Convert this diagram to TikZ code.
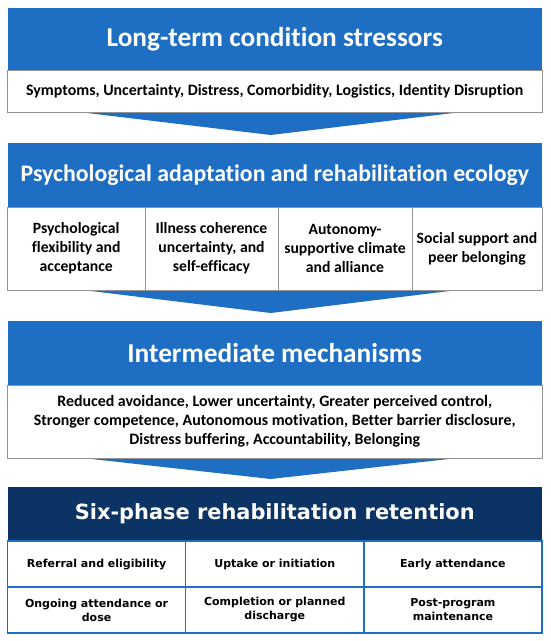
\documentclass[tikz,border=0pt]{standalone}
\usepackage{fontspec}
\setmainfont{Carlito}[Ligatures=NoCommon]
\newfontfamily\phasefont{DejaVu Sans}
\usepackage{tikz}
\usetikzlibrary{backgrounds,calc,positioning}
\definecolor{stageblue}{RGB}{30,111,196}
\definecolor{stagenavy}{RGB}{11,52,101}
\newcommand{\stagearrow}[2]{%
    \fill[stageblue] ($(#1)+(-192pt,0)$) -- ($(#1)+(183pt,0)$) -- ($(#2.north)+(-4pt,8pt)$) -- cycle;
}

\begin{document}
\begin{tikzpicture}[
            x=1pt, y=1pt,
            node distance = 0pt and 0pt,
            headbox/.style = {fill=stageblue,
                text=white,
                font=\fontsize{27.3}{31}\selectfont\bfseries,
                minimum width=534.5pt,
                minimum height=64pt,
                inner sep=0pt,
                outer sep=0pt,
            },
            bodybox/.style = {draw=gray!85,
                line width=0.6pt,
                fill=white,
                font=\fontsize{15.9}{19}\selectfont\bfseries,
                align=center,
                minimum width=534.5pt,
                inner sep=0pt,
                outer sep=0pt,
            },
            cellbox/.style = {bodybox,
                font=\fontsize{15.7}{19}\selectfont\bfseries,
                minimum height=83pt,
            },
            phasebox/.style = {draw=stageblue,
                line width=1.5pt,
                fill=white,
                font=\phasefont\fontsize{11}{14}\selectfont\bfseries,
                align=center,
                minimum width=178.17pt,
                minimum height=46pt,
                inner sep=0pt,
                outer sep=0pt,
            }
        ]
            \useasboundingbox (0,0) rectangle (550,-641);
            % stressors
            \node[headbox, minimum height=63pt] (head1) at (274.75,-39) {Long-term condition stressors};
            \node[bodybox, minimum height=42pt, below=of head1] (body1)
                {Symptoms, Uncertainty, Distress, Comorbidity, Logistics, Identity Disruption};
            % adaptation and ecology
            \node[headbox, below=30.5pt of body1, font=\fontsize{23.8}{28}\selectfont\bfseries] (head2)
                {Psychological adaptation and rehabilitation ecology};
            \node[cellbox, minimum width=137.5pt, below right=0pt and 0pt of head2.south west] (cell1)
                {Psychological\\flexibility and\\acceptance};
            \node[cellbox, minimum width=133pt, right=of cell1] (cell2)
                {Illness coherence\\uncertainty, and\\self-efficacy};
            \node[cellbox, minimum width=134pt, right=of cell2] (cell3)
                {Autonomy-\\supportive climate\\and alliance};
            \node[cellbox, minimum width=130pt, right=of cell3] (cell4)
                {Social support and\\peer belonging};
            \coordinate (cells) at ($(cell1.south west)!.5!(cell4.south east)$);
            % mechanisms
            \node[headbox, below=31pt of cells] (head3) {Intermediate mechanisms};
            \node[bodybox, minimum height=73pt, below=of head3] (body3)
                {Reduced avoidance, Lower uncertainty, Greater perceived control,\\
                 Stronger competence, Autonomous motivation, Better barrier disclosure,\\
                 Distress buffering, Accountability, Belonging};
            % retention phases
            \node[headbox, fill=stagenavy, minimum height=54pt, below=29pt of body3,
                font=\phasefont\fontsize{20.9}{25}\selectfont\bfseries] (head4) {Six-phase rehabilitation retention};
            \node[phasebox, below right=0pt and 0pt of head4.south west] (phase1) {Referral and eligibility};
            \node[phasebox, right=of phase1] (phase2) {Uptake or initiation};
            \node[phasebox, right=of phase2] (phase3) {Early attendance};
            \node[phasebox, below=of phase1] (phase4) {Ongoing attendance or\\dose};
            \node[phasebox, below=of phase2] (phase5) {Completion or planned\\discharge};
            \node[phasebox, below=of phase3] (phase6) {Post-program\\maintenance};
            \begin{scope}[on background layer]
                \stagearrow{body1.south}{head2}
                \stagearrow{cells}{head3}
                \stagearrow{body3.south}{head4}
            \end{scope}
        \end{tikzpicture}
\end{document}
